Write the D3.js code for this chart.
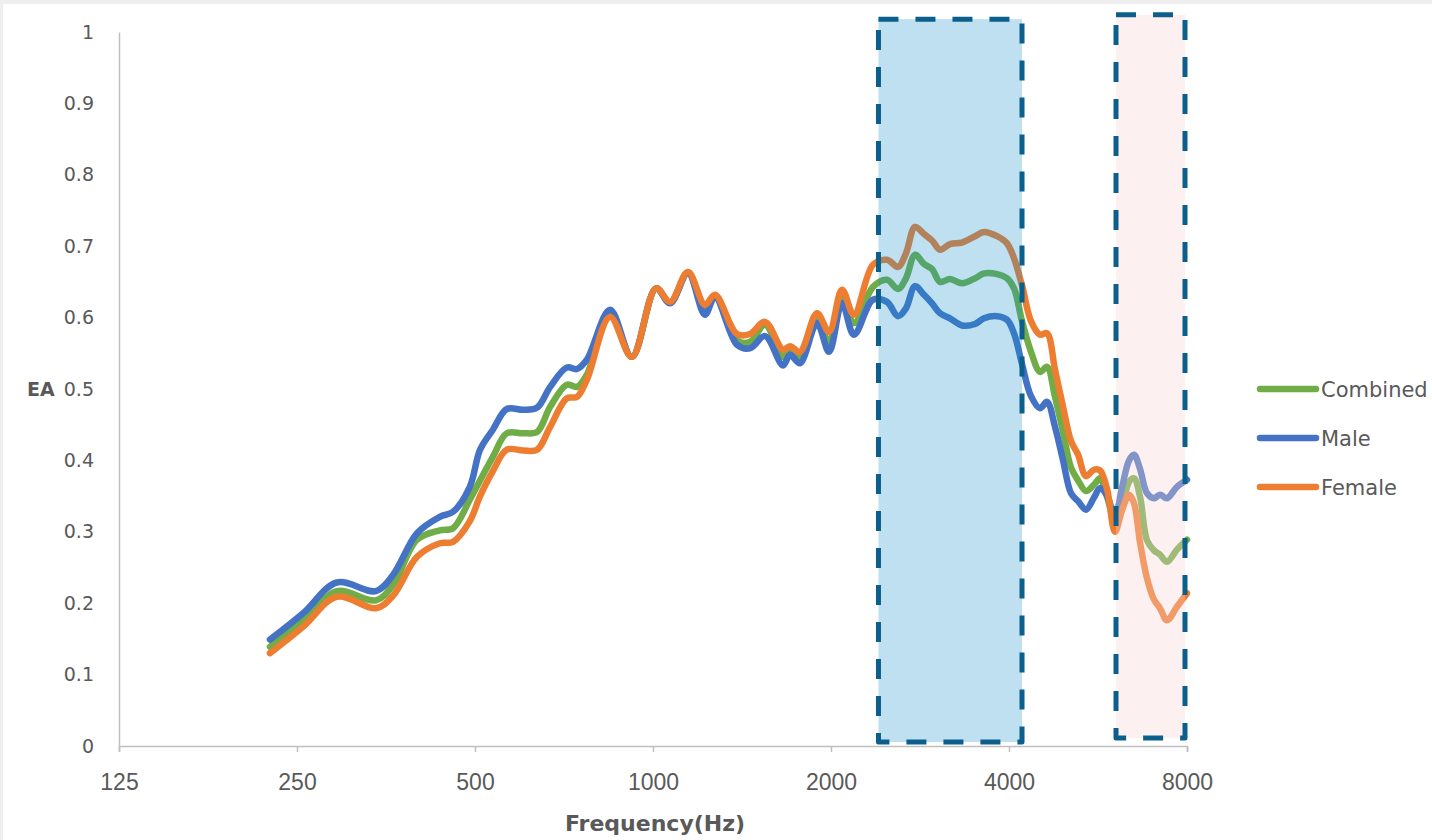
<!DOCTYPE html>
<html>
<head>
<meta charset="utf-8">
<script src="https://cdn.jsdelivr.net/npm/d3@7"></script>
<style>
  html, body { margin: 0; padding: 0; background: #eeeeee; }
  svg { display: block; }
</style>
</head>
<body>
<svg id="chart" width="1432" height="840"></svg>
<script>
// Frequency grid (Hz) shared by all three series
const freqs = [225, 256, 292, 340, 363, 399, 436, 459, 490, 510, 536, 566, 603, 637, 670,
  715, 744, 773, 846, 921, 1012, 1069, 1146, 1224, 1273, 1387, 1459, 1547, 1659, 1705,
  1772, 1894, 1985, 2088, 2187, 2355, 2487, 2596, 2678, 2774, 2873, 2964, 3058, 3179,
  3331, 3504, 3629, 3818, 3969, 4079, 4208, 4358, 4514, 4638, 4785, 4937, 5093, 5234,
  5399, 5570, 5701, 5859, 6044, 6211, 6384, 6509, 6663, 6846, 7035, 7201, 7400, 7694, 8000];

const combined = [0.139, 0.176, 0.217, 0.204, 0.225, 0.289, 0.302, 0.305, 0.345, 0.372, 0.405,
  0.438, 0.438, 0.440, 0.475, 0.506, 0.503, 0.520, 0.606, 0.545, 0.641, 0.621, 0.663, 0.610,
  0.630, 0.568, 0.566, 0.590, 0.545, 0.553, 0.545, 0.600, 0.565, 0.628, 0.592, 0.643, 0.653,
  0.640, 0.655, 0.688, 0.675, 0.668, 0.650, 0.654, 0.648, 0.655, 0.662, 0.661, 0.655, 0.641,
  0.595, 0.552, 0.524, 0.531, 0.489, 0.440, 0.390, 0.372, 0.357, 0.366, 0.375, 0.349, 0.317,
  0.336, 0.370, 0.375, 0.349, 0.288, 0.274, 0.268, 0.258, 0.275, 0.289];

const male = [0.149, 0.186, 0.229, 0.217, 0.239, 0.298, 0.321, 0.328, 0.363, 0.415, 0.443,
  0.472, 0.471, 0.474, 0.503, 0.530, 0.528, 0.541, 0.611, 0.545, 0.641, 0.620, 0.662, 0.604,
  0.629, 0.562, 0.557, 0.574, 0.533, 0.548, 0.536, 0.592, 0.552, 0.620, 0.576, 0.625, 0.622,
  0.602, 0.613, 0.644, 0.632, 0.620, 0.606, 0.599, 0.589, 0.591, 0.599, 0.602, 0.597, 0.578,
  0.535, 0.490, 0.473, 0.482, 0.447, 0.400, 0.354, 0.343, 0.331, 0.348, 0.361, 0.351, 0.321,
  0.362, 0.400, 0.408, 0.388, 0.354, 0.347, 0.352, 0.347, 0.363, 0.373];

const female = [0.130, 0.167, 0.209, 0.193, 0.210, 0.265, 0.284, 0.286, 0.315, 0.350, 0.385,
  0.415, 0.414, 0.415, 0.447, 0.487, 0.489, 0.513, 0.601, 0.545, 0.641, 0.622, 0.664, 0.618,
  0.632, 0.577, 0.577, 0.594, 0.555, 0.560, 0.552, 0.606, 0.580, 0.639, 0.604, 0.674, 0.681,
  0.671, 0.690, 0.727, 0.717, 0.708, 0.695, 0.703, 0.705, 0.714, 0.720, 0.714, 0.704, 0.683,
  0.645, 0.595, 0.576, 0.578, 0.527, 0.475, 0.427, 0.408, 0.378, 0.387, 0.386, 0.360, 0.300,
  0.330, 0.352, 0.340, 0.285, 0.235, 0.205, 0.193, 0.176, 0.195, 0.214];

const seriesNames = ["Combined", "Male", "Female"];
const xTicks = [125, 250, 500, 1000, 2000, 4000, 8000];
const yTicks = [0, 0.1, 0.2, 0.3, 0.4, 0.5, 0.6, 0.7, 0.8, 0.9, 1];

// Highlighted frequency bands: [fromHz, toHz, bottom EA, top EA]
const bandSpeech = [2406, 4208, 0.0056, 1.018];
const bandHigh = [6068, 7938, 0.0112, 1.024];

const colors = { Combined: "#70AD47", Male: "#4472C4", Female: "#ED7D31" };
const seriesValues = { Combined: combined, Male: male, Female: female };

const svg = d3.select("#chart");
svg.append("rect").attr("x", 3).attr("y", 4).attr("width", 1429).attr("height", 836).attr("fill", "#ffffff");

const x = d3.scaleLog().domain([125, 8000]).range([119, 1187]);
const y = d3.scaleLinear().domain([0, 1]).range([746, 32]);

// Y axis
const yAxis = svg.append("g")
  .attr("transform", "translate(119,0)")
  .call(d3.axisLeft(y).tickValues(yTicks).tickSize(0).tickPadding(25)
    .tickFormat(d => d3.format("~g")(d)));
yAxis.select(".domain").attr("stroke", "#BFBFBF").attr("stroke-width", 1.5);
yAxis.selectAll("text")
  .attr("font-family", "DejaVu Sans").attr("font-size", 19).attr("fill", "#595959");

// X axis
const xAxis = svg.append("g")
  .attr("transform", "translate(0,746)")
  .call(d3.axisBottom(x).tickValues(xTicks).tickSize(6).tickPadding(22)
    .tickFormat(d3.format("d")));
xAxis.select(".domain").attr("stroke", "#BFBFBF").attr("stroke-width", 1.5);
xAxis.selectAll(".tick line").attr("stroke", "#BFBFBF").attr("stroke-width", 1.5);
xAxis.selectAll("text")
  .attr("font-family", "Liberation Sans").attr("font-size", 23).attr("fill", "#595959");

// Axis titles
svg.append("text").attr("x", 27).attr("y", 396)
  .attr("font-family", "DejaVu Sans").attr("font-weight", "bold").attr("font-size", 19)
  .attr("fill", "#595959").text("EA");
svg.append("text").attr("x", 655).attr("y", 831).attr("text-anchor", "middle")
  .attr("font-family", "DejaVu Sans").attr("font-weight", "bold").attr("font-size", 22)
  .attr("fill", "#595959").text("Frequency(Hz)");

// Series lines
const line = d3.line()
  .x(d => x(d[0]))
  .y(d => y(d[1]))
  .curve(d3.curveCatmullRom.alpha(0.5));

seriesNames.forEach(name => {
  const pts = freqs.map((f, i) => [f, seriesValues[name][i]]);
  svg.append("path")
    .datum(pts)
    .attr("d", line)
    .attr("fill", "none")
    .attr("stroke", colors[name])
    .attr("stroke-width", 6.5)
    .attr("stroke-linejoin", "round")
    .attr("stroke-linecap", "round");
});

// Translucent highlight bands drawn over the lines, with dashed outlines
function band(b, fill, opacity) {
  const x0 = x(b[0]), x1 = x(b[1]), y0 = y(b[3]), y1 = y(b[2]);
  svg.append("rect").attr("x", x0).attr("y", y0).attr("width", x1 - x0).attr("height", y1 - y0)
    .attr("fill", fill).attr("fill-opacity", opacity);
  svg.append("rect").attr("x", x0).attr("y", y0).attr("width", x1 - x0).attr("height", y1 - y0)
    .attr("fill", "none").attr("stroke", "#0B5F8A").attr("stroke-width", 5)
    .attr("stroke-dasharray", "20 17").attr("stroke-linejoin", "round");
}
band(bandSpeech, "rgb(23,144,201)", 0.28);
band(bandHigh, "rgb(249,212,212)", 0.35);

// Legend
const legend = svg.append("g");
seriesNames.forEach((name, i) => {
  const ly = 389 + i * 49;
  legend.append("line").attr("x1", 1260).attr("x2", 1316).attr("y1", ly).attr("y2", ly)
    .attr("stroke", colors[name]).attr("stroke-width", 6.5).attr("stroke-linecap", "round");
  legend.append("text").attr("x", 1321).attr("y", ly + 7.5)
    .attr("font-family", "DejaVu Sans").attr("font-size", 21).attr("fill", "#595959")
    .text(name);
});
</script>
</body>
</html>
